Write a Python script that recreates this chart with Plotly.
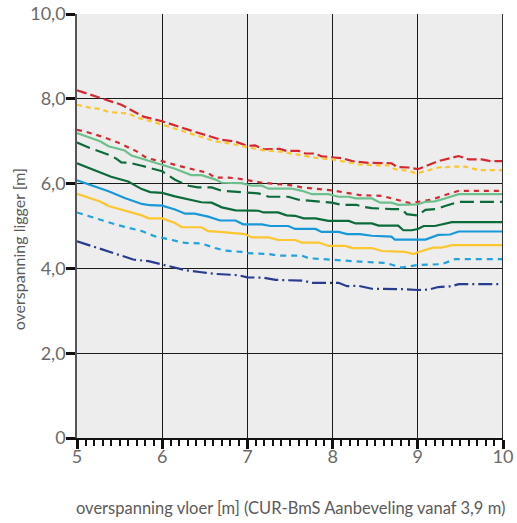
import plotly.graph_objects as go

# ---------------- data ----------------
red_long_x = [5.0, 5.52, 5.78, 6.0, 6.34, 6.68, 6.86, 7.0, 7.09, 7.19, 7.38, 7.46, 7.6, 7.68, 7.8, 7.87, 8.11, 8.23, 8.42, 8.54, 8.69, 8.76, 8.89, 9.0, 9.24, 9.48, 9.6, 9.75, 9.85, 10.0]
red_long_y = [8.2, 7.86, 7.58, 7.47, 7.25, 7.04, 6.99, 6.89, 6.90, 6.81, 6.82, 6.77, 6.77, 6.71, 6.71, 6.64, 6.60, 6.53, 6.49, 6.48, 6.48, 6.39, 6.38, 6.34, 6.53, 6.65, 6.57, 6.57, 6.53, 6.53]

yellow_dash_x = [5.0, 5.17, 5.27, 5.37, 5.6, 5.72, 5.87, 6.0, 6.27, 6.46, 6.62, 6.78, 7.0, 7.17, 7.4, 7.64, 7.8, 8.0, 8.19, 8.32, 8.54, 8.66, 8.73, 8.89, 8.99, 9.09, 9.24, 9.44, 9.56, 9.71, 10.0]
yellow_dash_y = [7.86, 7.78, 7.76, 7.69, 7.65, 7.55, 7.47, 7.39, 7.23, 7.11, 7.0, 6.95, 6.86, 6.79, 6.75, 6.67, 6.61, 6.57, 6.49, 6.45, 6.43, 6.43, 6.34, 6.30, 6.24, 6.30, 6.38, 6.40, 6.40, 6.32, 6.32]

red_short_x = [5.0, 5.09, 5.29, 5.48, 5.7, 5.82, 5.91, 6.0, 6.19, 6.34, 6.54, 6.62, 6.78, 6.89, 7.0, 7.17, 7.52, 7.64, 7.8, 8.0, 8.11, 8.23, 8.32, 8.58, 8.69, 8.81, 8.91, 9.0, 9.16, 9.32, 9.48, 10.0]
red_short_y = [7.27, 7.23, 7.11, 6.97, 6.76, 6.60, 6.56, 6.53, 6.42, 6.35, 6.25, 6.14, 6.14, 6.12, 6.08, 6.02, 5.96, 5.91, 5.88, 5.84, 5.80, 5.75, 5.73, 5.71, 5.66, 5.59, 5.54, 5.57, 5.62, 5.73, 5.83, 5.83]

green_light_x = [5.0, 5.27, 5.37, 5.56, 5.64, 5.84, 6.0, 6.15, 6.34, 6.46, 6.62, 6.7, 6.93, 7.05, 7.17, 7.25, 7.52, 7.64, 7.76, 7.95, 8.07, 8.19, 8.27, 8.46, 8.56, 8.69, 8.77, 8.93, 9.0, 9.09, 9.2, 9.32, 9.48, 10.0]
green_light_y = [7.19, 7.0, 6.88, 6.78, 6.66, 6.54, 6.45, 6.35, 6.2, 6.2, 6.1, 6.02, 6.01, 5.95, 5.95, 5.88, 5.88, 5.83, 5.75, 5.75, 5.69, 5.69, 5.65, 5.65, 5.55, 5.55, 5.5, 5.5, 5.51, 5.57, 5.58, 5.65, 5.75, 5.75]

green_dark_dash_x = [5.0, 5.15, 5.37, 5.46, 5.52, 5.62, 5.76, 6.0, 6.15, 6.31, 6.42, 6.58, 6.7, 7.0, 7.13, 7.25, 7.48, 7.6, 7.8, 7.99, 8.11, 8.28, 8.36, 8.46, 8.69, 8.81, 8.87, 9.0, 9.09, 9.22, 9.32, 9.48, 10.0]
green_dark_dash_y = [6.97, 6.84, 6.68, 6.59, 6.5, 6.49, 6.42, 6.29, 6.09, 5.95, 5.91, 5.91, 5.83, 5.8, 5.77, 5.69, 5.69, 5.62, 5.58, 5.55, 5.5, 5.5, 5.45, 5.42, 5.4, 5.4, 5.28, 5.25, 5.38, 5.4, 5.47, 5.57, 5.57]

green_dark_x = [5.0, 5.27, 5.4, 5.6, 5.68, 5.76, 5.86, 6.0, 6.15, 6.34, 6.46, 6.58, 6.7, 6.86, 7.13, 7.19, 7.36, 7.46, 7.56, 7.66, 7.8, 7.95, 8.19, 8.27, 8.46, 8.54, 8.77, 8.83, 8.93, 9.0, 9.07, 9.2, 9.4, 10.0]
green_dark_y = [6.48, 6.27, 6.16, 6.05, 5.95, 5.87, 5.8, 5.78, 5.7, 5.61, 5.56, 5.55, 5.44, 5.37, 5.36, 5.32, 5.32, 5.25, 5.24, 5.18, 5.18, 5.12, 5.12, 5.06, 5.06, 5.01, 5.01, 4.9, 4.9, 4.93, 5.0, 5.0, 5.09, 5.09]

blue_x = [5.0, 5.37, 5.56, 5.76, 5.86, 6.0, 6.15, 6.27, 6.38, 6.54, 6.68, 6.86, 6.95, 7.17, 7.27, 7.48, 7.56, 7.8, 7.87, 8.07, 8.17, 8.32, 8.46, 8.69, 8.73, 9.09, 9.24, 9.38, 9.48, 10.0]
blue_y = [6.08, 5.82, 5.66, 5.52, 5.49, 5.48, 5.39, 5.29, 5.29, 5.22, 5.13, 5.13, 5.04, 5.04, 5.0, 5.0, 4.93, 4.93, 4.86, 4.86, 4.81, 4.81, 4.77, 4.75, 4.68, 4.68, 4.79, 4.8, 4.87, 4.87]

yellow_x = [5.0, 5.27, 5.37, 5.56, 5.76, 5.84, 6.0, 6.15, 6.23, 6.46, 6.54, 6.68, 6.97, 7.05, 7.25, 7.36, 7.56, 7.64, 7.84, 7.95, 8.15, 8.23, 8.46, 8.58, 8.85, 8.95, 9.0, 9.18, 9.28, 9.4, 10.0]
yellow_y = [5.76, 5.58, 5.47, 5.36, 5.25, 5.18, 5.18, 5.07, 4.97, 4.97, 4.88, 4.86, 4.81, 4.73, 4.73, 4.67, 4.67, 4.61, 4.61, 4.53, 4.53, 4.48, 4.48, 4.41, 4.39, 4.34, 4.38, 4.49, 4.49, 4.55, 4.55]

blue_light_x = [5.0, 5.29, 5.48, 5.76, 5.91, 6.0, 6.27, 6.46, 6.62, 6.74, 6.93, 7.0, 7.25, 7.36, 7.64, 7.72, 8.0, 8.11, 8.32, 8.62, 8.81, 9.0, 9.28, 9.44, 10.0]
blue_light_y = [5.32, 5.14, 5.02, 4.88, 4.76, 4.72, 4.6, 4.59, 4.48, 4.42, 4.39, 4.36, 4.34, 4.3, 4.3, 4.24, 4.2, 4.18, 4.16, 4.13, 4.02, 4.08, 4.1, 4.22, 4.22]

navy_x = [5.0, 5.21, 5.37, 5.52, 5.66, 5.84, 6.0, 6.15, 6.27, 6.46, 6.62, 6.89, 7.0, 7.19, 7.33, 7.66, 7.76, 8.07, 8.17, 8.3, 8.46, 8.81, 9.0, 9.13, 9.24, 9.4, 9.48, 10.0]
navy_y = [4.64, 4.5, 4.41, 4.31, 4.21, 4.17, 4.09, 4.02, 3.96, 3.91, 3.87, 3.84, 3.79, 3.78, 3.73, 3.71, 3.66, 3.66, 3.58, 3.59, 3.52, 3.51, 3.49, 3.5, 3.56, 3.58, 3.63, 3.63]

y_tick_vals = [0, 2, 4, 6, 8, 10]
y_tick_text = ["0", "2,0", "4,0", "6,0", "8,0", "10,0"]
x_tick_vals = [5, 6, 7, 8, 9, 10]
x_tick_text = ["5", "6", "7", "8", "9", "10"]

x_title = "overspanning vloer [m] (CUR-BmS Aanbeveling vanaf 3,9 m)"
y_title = "overspanning ligger [m]"

# ---------------- figure ----------------
series = [
    (red_long_x, red_long_y, "#d62830", "10px,4px"),
    (yellow_dash_x, yellow_dash_y, "#fcc62f", "5px,4px"),
    (red_short_x, red_short_y, "#d62830", "5px,5px"),
    (green_light_x, green_light_y, "#6cc08c", "solid"),
    (green_dark_dash_x, green_dark_dash_y, "#0d6b3b", "14px,6px"),
    (green_dark_x, green_dark_y, "#0d6b3b", "solid"),
    (blue_x, blue_y, "#1998d8", "solid"),
    (yellow_x, yellow_y, "#fcc62f", "solid"),
    (blue_light_x, blue_light_y, "#22a2de", "6px,5px"),
    (navy_x, navy_y, "#273c8e", "14px,4px,2px,4px"),
]

fig = go.Figure()
for xs, ys, col, dash in series:
    fig.add_trace(go.Scatter(
        x=xs, y=ys, mode="lines",
        line=dict(color=col, width=2.2, dash=dash),
        showlegend=False, hoverinfo="skip",
    ))

font_family = "Lato, 'Open Sans', sans-serif"

fig.update_layout(
    width=517, height=523,
    margin=dict(l=77, r=14, t=14, b=85),
    paper_bgcolor="white",
    plot_bgcolor="#ededed",
    font=dict(family=font_family, color="#666666", size=16),
    showlegend=False,
)

fig.update_xaxes(
    range=[5, 10], automargin=False,
    tickvals=x_tick_vals, ticktext=x_tick_text,
    showgrid=True, gridcolor="#1a1a1a", gridwidth=1.3,
    zeroline=False,
    showline=True, linecolor="#111111", linewidth=2,
    ticks="outside", ticklen=9, tickwidth=2.5, tickcolor="#111111",
    tickfont=dict(size=18, color="#6a6a6a"),
    ticklabelstandoff=-8,
    minor=dict(dtick=0.1, tick0=5, ticks="outside", ticklen=6, tickwidth=1.5,
               tickcolor="#111111", showgrid=False),
    mirror=False,
)
fig.update_yaxes(
    range=[0, 10], automargin=False,
    tickvals=y_tick_vals, ticktext=y_tick_text,
    showgrid=True, gridcolor="#1a1a1a", gridwidth=1.3,
    zeroline=False,
    showline=True, linecolor="#555555", linewidth=1.5,
    ticks="outside", ticklen=9, tickwidth=2.5, tickcolor="#111111",
    tickfont=dict(size=18, color="#6a6a6a"),
    ticklabelstandoff=-3,
)

# right border of plot
fig.add_shape(type="line", xref="x", yref="y", x0=10, x1=10, y0=0, y1=10,
              line=dict(color="#333333", width=2))

fig.add_annotation(text=x_title, xref="paper", yref="paper", x=0.5, y=0,
                   xanchor="center", yanchor="middle",
                   yshift=-70, showarrow=False,
                   font=dict(size=16.5, color="#5a5a5a", family=font_family))
fig.add_annotation(text=y_title, xref="paper", yref="paper", x=0, y=0.445,
                   xanchor="center", yanchor="middle",
                   xshift=-59, textangle=-90, showarrow=False,
                   font=dict(size=16, color="#5a5a5a", family=font_family))

fig.write_html("out.html")
